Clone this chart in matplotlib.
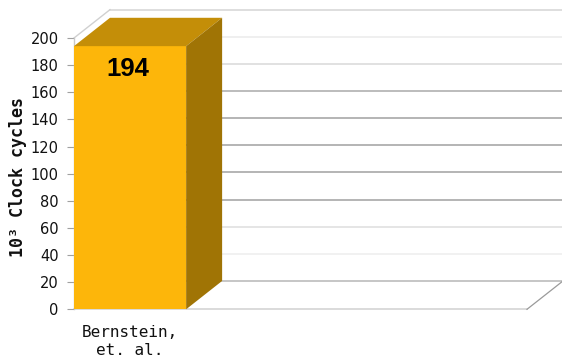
import matplotlib
matplotlib.use("Agg")
import matplotlib.pyplot as plt
from matplotlib.patches import Polygon

# --- datos ---
categories = ["Bernstein,\net. al."]
values = [194]
y_ticks = [0, 20, 40, 60, 80, 100, 120, 140, 160, 180, 200]
y_label = "10³ Clock cycles"

# --- estilo / geometria ---
W, H = 562, 358
n_slots = 4.04          # ancho del piso en unidades de barra
depth_x = 0.321         # profundidad 3D en x (unidades de barra)
depth_y = 20.9          # profundidad 3D en y (unidades de valor)
y_max = 200
c_front = "#fdb60a"
c_top = "#c48e08"
c_side = "#a07405"
# color de cada linea de la rejilla (de 0 a 200)
grid_colors = ["#bcbcbc", "#efefef", "#e0e0e0", "#a8a8a8", "#a8a8a8",
               "#a8a8a8", "#a8a8a8", "#b0b0b0", "#dcdcdc", "#ececec", "#d8d8d8"]

fig = plt.figure(figsize=(W / 100, H / 100), dpi=100)
ax = fig.add_axes([74 / W, (H - 309.3) / H, (527 - 74) / W, (309.3 - 38) / H])
ax.set_xlim(0, n_slots)
ax.set_ylim(0, y_max)
for s in ["top", "right", "bottom"]:
    ax.spines[s].set_visible(False)
ax.spines["left"].set_color("#c8c8c8")
ax.spines["left"].set_linewidth(1.0)

# pared de fondo: lineas de la rejilla
for v, c in zip(y_ticks, grid_colors):
    ax.plot([depth_x, n_slots + depth_x], [v + depth_y, v + depth_y],
            color=c, lw=1.2, clip_on=False, zorder=1)

# pared izquierda (borde superior) y piso
ax.plot([0, depth_x], [y_max, y_max + depth_y], color="#d0d0d0", lw=1.0,
        clip_on=False, zorder=1)
ax.plot([0, n_slots], [0, 0], color="#d4d4d4", lw=1.2, clip_on=False, zorder=1)
ax.plot([n_slots, n_slots + depth_x], [0, depth_y], color="#9a9a9a", lw=0.9,
        clip_on=False, zorder=1)

# barras 3D
for i, v in enumerate(values):
    x0, x1 = i, i + 1
    front = Polygon([(x0, 0), (x1, 0), (x1, v), (x0, v)], closed=True,
                    facecolor=c_front, edgecolor="none", zorder=3)
    top = Polygon([(x0, v), (x1, v), (x1 + depth_x, v + depth_y),
                   (x0 + depth_x, v + depth_y)], closed=True,
                  facecolor=c_top, edgecolor="none", zorder=3)
    side = Polygon([(x1, 0), (x1 + depth_x, depth_y),
                    (x1 + depth_x, v + depth_y), (x1, v)], closed=True,
                   facecolor=c_side, edgecolor="none", zorder=3)
    for p in (front, top, side):
        p.set_clip_on(False)
        ax.add_patch(p)
    ax.text(i + 0.48, v - 16.5, f"{v}", ha="center", va="center",
            fontsize=18.5, fontweight="bold", family="Liberation Sans",
            color="black", zorder=4)

# ejes
ax.set_yticks(y_ticks)
ax.set_yticklabels([str(t) for t in y_ticks], family="DejaVu Sans",
                   fontsize=10.5, color="#111111")
ax.tick_params(axis="y", direction="out", length=5, width=0.8,
               color="#a0a0a0", pad=6)
ax.set_xticks([i + 0.5 for i in range(len(categories))])
ax.set_xticklabels(categories, family="DejaVu Sans Mono", fontsize=11.5,
                   linespacing=1.3, color="#111111")
ax.tick_params(axis="x", length=0, pad=11)

fig.text(18 / W, (H - 177) / H, y_label, rotation=90, ha="center",
         va="center", family="DejaVu Sans Mono", fontweight="bold",
         fontsize=12, color="#111111")

fig.savefig("out.png", dpi=100)
